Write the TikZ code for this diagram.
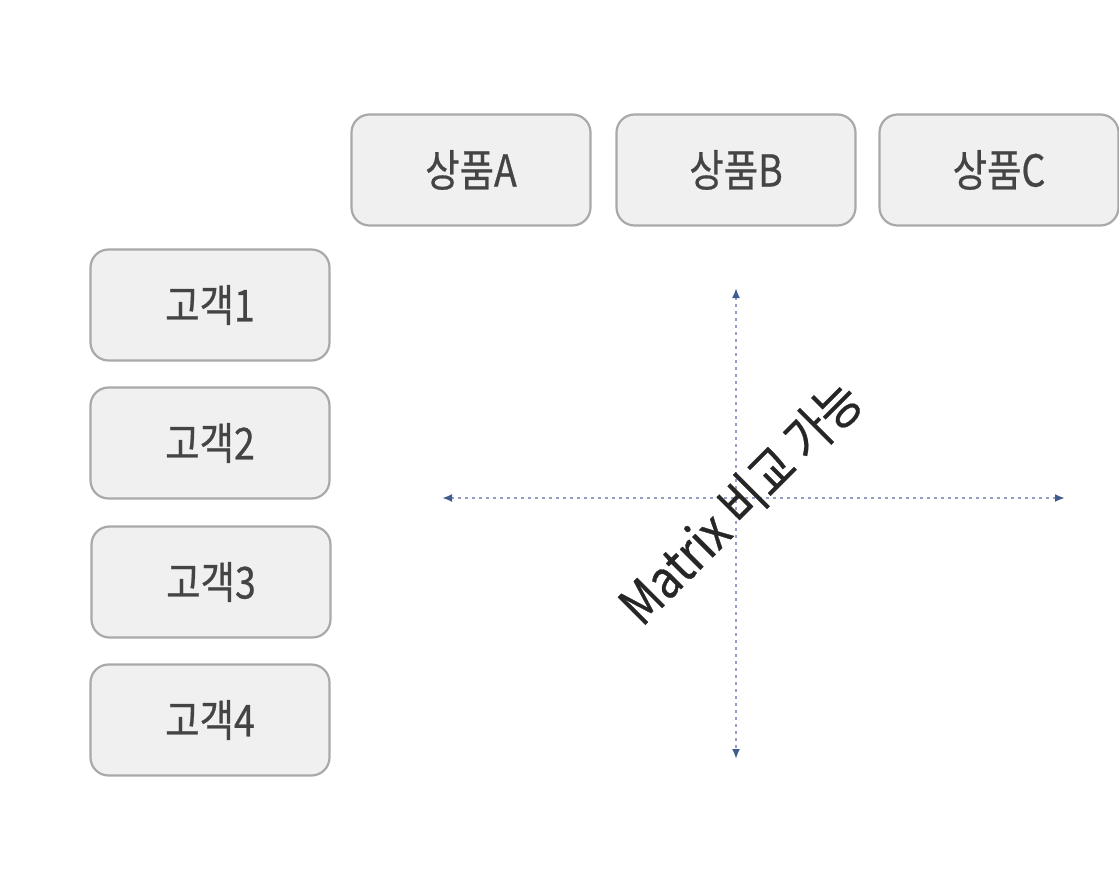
\documentclass[tikz,border=0pt]{standalone}
\usepackage{fontspec}
\setmainfont{Noto Sans CJK KR}[FakeStretch=0.85, FakeBold=0.6]
\usetikzlibrary{arrows.meta}
\definecolor{boxfill}{HTML}{F1F0F1}
\definecolor{boxline}{HTML}{A9A9A9}
\definecolor{boxtext}{HTML}{444444}
\definecolor{axisdot}{HTML}{959CC6}
\definecolor{axistip}{HTML}{3E5C8E}
\begin{document}
\begin{tikzpicture}[x=1pt,y=-1pt,
        box/.style={draw=boxline, line width=2.2pt, fill=boxfill, rounded corners=18pt,
            minimum width=239pt, minimum height=111pt, text=boxtext,
            font=\fontsize{44}{53}\selectfont},
        axis/.style={axisdot, line width=2.5pt, dash pattern=on 3pt off 4pt,
            {Latex[length=10pt,width=8pt,color=axistip]}-{Latex[length=10pt,width=8pt,color=axistip]}}]
        \useasboundingbox (0,0) rectangle (1119,869);
        %상품
        \node[box] (prodA) at (471,170) {상품A};
        \node[box] (prodB) at (736,170) {상품B};
        \node[box] (prodC) at (999,170) {상품C};
        %고객
        \node[box] (cust1) at (210,305) {고객1};
        \node[box] (cust2) at (210,443) {고객2};
        \node[box] (cust3) at (211,582) {고객3};
        \node[box] (cust4) at (210,720) {고객4};
        %axes
        \coordinate (top) at (736,288);
        \coordinate (bottom) at (736,759);
        \coordinate (left) at (442,498);
        \coordinate (right) at (1065,498);
        \draw[axis] (left) -- (right);
        \draw[axis] (top) -- (bottom);
        %Matrix
        \node[rotate=45, text=black!85, font=\fontsize{53}{64}\selectfont] (matrix) at (740,502) {Matrix 비교 가능};
\end{tikzpicture}
\end{document}
